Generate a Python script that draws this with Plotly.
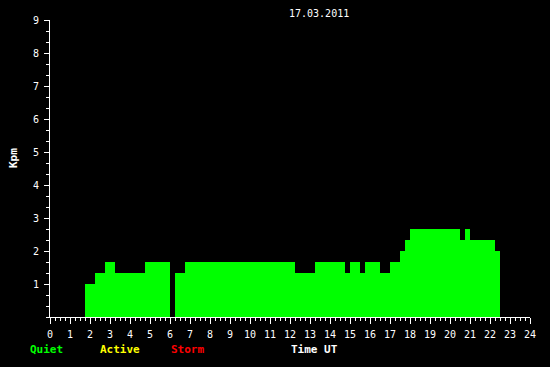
import plotly.graph_objects as go

# Kpm index, 15-minute slots from 00:00 UT (None = no bar)
slot_hours = [q / 4 for q in range(96)]
kpm_values = [
    None, None, None, None, None, None, None,          # 00:00-01:30
    1.0, 1.0,                                           # 01:45-02:00
    1.33, 1.33,                                         # 02:15-02:30
    1.67, 1.67,                                         # 02:45-03:00
    1.33, 1.33, 1.33, 1.33, 1.33, 1.33,                 # 03:15-04:30
    1.67, 1.67, 1.67, 1.67, 1.67,                       # 04:45-05:45
    None,                                               # 06:00
    1.33, 1.33,                                         # 06:15-06:30
    1.67, 1.67, 1.67, 1.67, 1.67, 1.67, 1.67, 1.67,     # 06:45-08:30
    1.67, 1.67, 1.67, 1.67, 1.67, 1.67, 1.67, 1.67,     # 08:45-10:30
    1.67, 1.67, 1.67, 1.67, 1.67, 1.67,                 # 10:45-12:00
    1.33, 1.33, 1.33, 1.33,                             # 12:15-13:00
    1.67, 1.67, 1.67, 1.67, 1.67, 1.67,                 # 13:15-14:30
    1.33,                                               # 14:45
    1.67, 1.67,                                         # 15:00-15:15
    1.33,                                               # 15:30
    1.67, 1.67, 1.67,                                   # 15:45-16:15
    1.33, 1.33,                                         # 16:30-16:45
    1.67, 1.67,                                         # 17:00-17:15
    2.0,                                                # 17:30
    2.33,                                               # 17:45
    2.67, 2.67, 2.67, 2.67, 2.67, 2.67, 2.67, 2.67, 2.67, 2.67,  # 18:00-20:15
    2.33,                                               # 20:30
    2.67,                                               # 20:45
    2.33, 2.33, 2.33, 2.33, 2.33,                       # 21:00-22:00
    2.0,                                                # 22:15
    None, None, None, None, None, None,                 # 22:30-23:45
]

x_ticks = list(range(0, 25))
y_ticks = list(range(1, 10))
date_label = "17.03.2011"
y_title = "Kpm"
legend_items = [("Quiet", "#00ff00"), ("Active", "#ffff00"), ("Storm", "#ff0000")]
x_title = "Time UT"

GREEN = "#00ff00"
MONO = "DejaVu Sans Mono"

fig = go.Figure()
fig.add_trace(go.Bar(
    x=slot_hours, y=kpm_values, width=0.25, offset=0,
    marker=dict(color=GREEN, line=dict(width=0)),
    hoverinfo="skip", showlegend=False,
))

W, H = 550, 367
L, R, T, B = 50, 20, 20, 50
pw, ph = W - L - R, H - T - B

def px_x(p):
    return (p - L) / pw

def px_y(p):
    return (H - B - p) / ph

annotations = [
    dict(text=date_label, x=px_x(319), y=px_y(13), xref="paper", yref="paper",
         showarrow=False, xanchor="center", yanchor="middle",
         font=dict(family=MONO, size=10, color="white")),
    dict(text="<b>%s</b>" % y_title, x=px_x(13), y=px_y(158), xref="paper", yref="paper",
         showarrow=False, xanchor="center", yanchor="middle", textangle=-90,
         font=dict(family=MONO, size=11, color="white")),
    dict(text="<b>%s</b>" % x_title, x=px_x(314), y=px_y(349), xref="paper", yref="paper",
         showarrow=False, xanchor="center", yanchor="middle",
         font=dict(family=MONO, size=11, color="white")),
]
for (label, color), cx in zip(legend_items, [46.5, 120, 187]):
    annotations.append(dict(
        text="<b>%s</b>" % label, x=px_x(cx), y=px_y(349), xref="paper", yref="paper",
        showarrow=False, xanchor="center", yanchor="middle",
        font=dict(family=MONO, size=11, color=color)))

fig.update_layout(
    width=W, height=H,
    margin=dict(l=L, r=R, t=T, b=B, pad=0),
    paper_bgcolor="black", plot_bgcolor="black",
    font=dict(family=MONO, size=10, color="white"),
    bargap=0,
    xaxis=dict(
        range=[0, 24], tickvals=x_ticks, ticktext=[str(v) for v in x_ticks],
        showgrid=False, zeroline=False, showline=True, linecolor="white", linewidth=1,
        ticks="outside", ticklen=6, tickcolor="white", tickwidth=1,
        minor=dict(dtick=0.25, tick0=0, ticks="outside", ticklen=3, tickcolor="white", showgrid=False),
        tickfont=dict(family=MONO, size=10, color="white"),
        ticklabelstandoff=2,
        layer="below traces", fixedrange=True,
    ),
    yaxis=dict(
        range=[0, 9], tickvals=y_ticks, ticktext=[str(v) for v in y_ticks],
        showgrid=False, zeroline=False, showline=True, linecolor="white", linewidth=1,
        ticks="outside", ticklen=5, tickcolor="white", tickwidth=1,
        minor=dict(dtick=1/3, tick0=0, ticks="outside", ticklen=3, tickcolor="white", showgrid=False),
        tickfont=dict(family=MONO, size=10, color="white"),
        ticklabelstandoff=3,
        layer="below traces", fixedrange=True,
    ),
    annotations=annotations,
)

fig.write_html("out.html", config={"displayModeBar": False})
